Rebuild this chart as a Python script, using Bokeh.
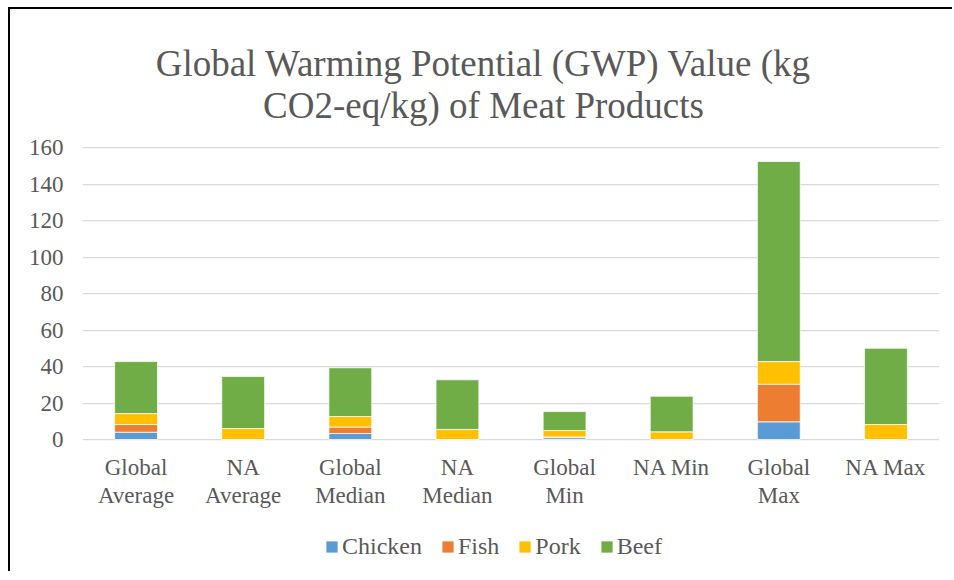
from bokeh.plotting import figure
from bokeh.models import (Range1d, FixedTicker, Legend, LegendItem, Label, LinearAxis)
from bokeh.embed import file_html
from bokeh.resources import INLINE

categories = ["Global Average", "NA Average", "Global Median", "NA Median",
              "Global Min", "NA Min", "Global Max", "NA Max"]
label_line1 = ["Global", "NA", "Global", "NA", "Global", "NA Min", "Global", "NA Max"]
label_line2 = ["Average", "Average", "Median", "Median", "Min", "", "Max", ""]
chicken = [4.0, 0.0, 3.3, 0.0, 1.0, 0.0, 9.7, 0.0]
fish = [4.2, 0.0, 3.5, 0.0, 0.4, 0.0, 20.6, 0.0]
pork = [6.0, 6.0, 5.8, 5.5, 3.5, 4.2, 12.4, 8.2]
beef = [28.5, 28.5, 26.7, 27.2, 10.4, 19.5, 109.6, 41.8]
series = ["Chicken", "Fish", "Pork", "Beef"]
colors = ["#5B9BD5", "#ED7D31", "#FFC000", "#70AD47"]
y_ticks = [0, 20, 40, 60, 80, 100, 120, 140, 160]
title_lines = ["Global Warming Potential (GWP) Value (kg", "CO2-eq/kg) of Meat Products"]

FONT = "Liberation Serif"
TXT = "#595959"

W, H = 944, 564
FRAME_TOP, FRAME_BOT = 138, 430          # canvas px where the value axis spans 160 .. 0
px_per_unit = (FRAME_BOT - FRAME_TOP) / y_ticks[-1]
y_lo = -(H - FRAME_BOT) / px_per_unit
y_hi = y_ticks[-1] + FRAME_TOP / px_per_unit

xs = list(range(len(categories)))

p = figure(x_range=Range1d(-0.5, len(categories) - 0.5), y_range=Range1d(y_lo, y_hi),
           width=W, height=H, output_backend="svg", toolbar_location=None,
           min_border_left=72, min_border_right=15, min_border_top=0, min_border_bottom=0)
p.styles = {"margin-left": "8px", "margin-top": "7px",
            "border-left": "2px solid black", "border-top": "2px solid black"}
p.outline_line_color = None
p.background_fill_color = "white"

data = dict(x=xs, Chicken=chicken, Fish=fish, Pork=pork, Beef=beef)
rs = p.vbar_stack(series, x="x", width=0.4, color=colors, source=data,
                  line_color="white", line_width=0.75)

yt = FixedTicker(ticks=y_ticks)
p.yaxis.ticker = yt
p.yaxis.axis_line_color = None
p.yaxis.major_tick_line_color = None
p.yaxis.minor_tick_line_color = None
p.yaxis.major_tick_out = 0
p.yaxis.minor_tick_out = 0
p.yaxis.major_label_standoff = 19
p.yaxis.major_label_text_font = FONT
p.yaxis.major_label_text_font_size = "23px"
p.yaxis.major_label_text_color = TXT

ax1 = p.xaxis[0]
ax2 = LinearAxis()
p.add_layout(ax2, "below")
for ax, labs, so in [(ax1, label_line1, 15), (ax2, label_line2, 43)]:
    ax.fixed_location = 0
    ax.ticker = FixedTicker(ticks=xs)
    ax.axis_line_color = None
    ax.major_tick_line_color = None
    ax.minor_tick_line_color = None
    ax.major_tick_out = 0
    ax.minor_tick_out = 0
    ax.major_label_standoff = so
    ax.major_label_text_font = FONT
    ax.major_label_text_font_size = "23px"
    ax.major_label_text_color = TXT
    ax.major_label_overrides = {i: t for i, t in zip(xs, labs)}

for g in p.grid:
    if g.dimension == 0:
        g.visible = False
    else:
        g.ticker = yt
        g.grid_line_color = "#D9D9D9"
        g.grid_line_width = 1.25

legend = Legend(items=[LegendItem(label=s, renderers=[r]) for s, r in zip(series, rs)],
                orientation="horizontal", location=(242, 13),
                glyph_width=15, glyph_height=15, label_standoff=3, spacing=18,
                padding=0, margin=0, border_line_color=None, background_fill_alpha=0,
                label_text_font=FONT, label_text_font_size="24px", label_text_color=TXT)
p.add_layout(legend, "center")

for txt, yy in zip(title_lines, [H - 54, H - 96]):
    p.add_layout(Label(x=401, y=yy, x_units="screen", y_units="screen", text=txt,
                       text_align="center", text_baseline="alphabetic",
                       text_font=FONT, text_font_size="37px", text_color=TXT))

open("out.html", "w").write(file_html(p, INLINE))
